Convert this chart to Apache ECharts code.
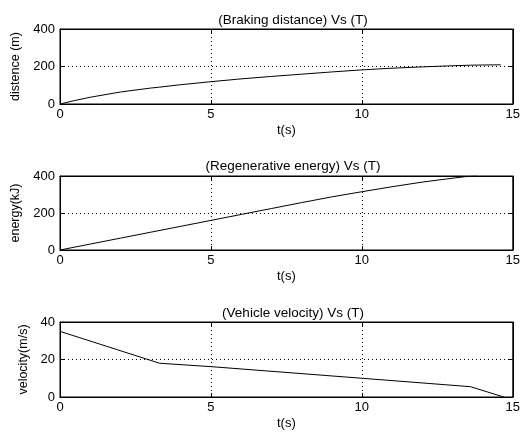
<!DOCTYPE html>
<html>
<head>
<meta charset="utf-8">
<script src="https://cdn.jsdelivr.net/npm/echarts@6/dist/echarts.min.js"></script>
<style>html,body{margin:0;padding:0;background:#fff;}#c{width:523px;height:437px;}</style>
</head>
<body>
<div id="c"></div>
<script>
// ---- data ----
var titles = ['(Braking distance) Vs (T)', '(Regenerative energy) Vs (T)', '(Vehicle velocity) Vs (T)'];
var yNames = ['distence (m)', 'energy(kJ)', 'velocity(m/s)'];
var xName = 't(s)';
var yMax = [400, 400, 40];
var yInterval = [200, 200, 20];

var distT = [0, 0.5, 1, 2, 3, 3.3, 4, 5, 6, 7, 8, 9, 10, 11, 12, 13, 13.6, 14, 14.6];
var distV = [0, 19, 36, 64, 85, 90, 103, 119, 134, 147, 159, 171, 182, 191, 198, 204, 207, 208, 209];

var energyT = [0, 1, 2, 3, 4, 5, 6, 7, 8, 9, 10, 11, 12, 13, 13.4, 13.8];
var energyV = [0, 32, 64, 96, 128, 160, 192, 224, 256, 287, 315, 342, 367, 388, 396, 400];

var velT = [0, 3.3, 5, 10, 13.6, 14.7];
var velV = [35, 18, 16.2, 10, 5.5, 0];

// ---- chart ----
var font = 'Liberation Sans, Arial, sans-serif';
var gridTops = [29, 176, 322];
var gridH = [75, 74, 75];
var nameGaps = [31, 30, 22];
var titleTops = [8, 154, 301];

function mk(t, v) { return t.map(function (x, i) { return [x, v[i]]; }); }
var seriesData = [mk(distT, distV), mk(energyT, energyV), mk(velT, velV)];

var grids = [], xAxes = [], yAxes = [], series = [], titleArr = [];
for (var i = 0; i < 3; i++) {
  grids.push({ left: 60, right: 7, top: gridTops[i], height: gridH[i], show: true, borderColor: '#000', borderWidth: 1, backgroundColor: '#fff' });
  titleArr.push({ text: titles[i], left: 288, top: titleTops[i], textAlign: 'center',
    textStyle: { fontFamily: font, fontSize: 13.5, fontWeight: 'normal', color: '#000' } });
  xAxes.push({ type: 'value', gridIndex: i, min: 0, max: 15, interval: 5, position: 'bottom',
    name: xName, nameLocation: 'middle', nameGap: 20,
    nameTextStyle: { fontFamily: font, fontSize: 13, color: '#000' },
    axisLine: { show: true, onZero: false, lineStyle: { color: '#000', width: 1 } },
    axisTick: { show: true, inside: true, length: 4, lineStyle: { color: '#000' } },
    axisLabel: { fontFamily: font, fontSize: 13, color: '#000', margin: 4 },
    splitLine: { show: true, lineStyle: { color: '#000', type: [1, 3], width: 1 } } });
  xAxes.push({ type: 'value', gridIndex: i, min: 0, max: 15, interval: 5, position: 'top',
    axisLine: { show: true, onZero: false, lineStyle: { color: '#000', width: 1 } },
    axisTick: { show: true, inside: true, length: 4, lineStyle: { color: '#000' } },
    axisLabel: { show: false }, splitLine: { show: false } });
  yAxes.push({ type: 'value', gridIndex: i, min: 0, max: yMax[i], interval: yInterval[i], position: 'left',
    name: yNames[i], nameLocation: 'middle', nameGap: nameGaps[i], nameRotate: 90,
    nameTextStyle: { fontFamily: font, fontSize: 12.5, color: '#000' },
    axisLine: { show: true, onZero: false, lineStyle: { color: '#000', width: 1 } },
    axisTick: { show: true, inside: true, length: 4, lineStyle: { color: '#000' } },
    axisLabel: { fontFamily: font, fontSize: 13, color: '#000', margin: 5 },
    splitLine: { show: true, lineStyle: { color: '#000', type: [1, 3], width: 1 } } });
  yAxes.push({ type: 'value', gridIndex: i, min: 0, max: yMax[i], interval: yInterval[i], position: 'right',
    axisLine: { show: true, onZero: false, lineStyle: { color: '#000', width: 1 } },
    axisTick: { show: true, inside: true, length: 4, lineStyle: { color: '#000' } },
    axisLabel: { show: false }, splitLine: { show: false } });
  series.push({ type: 'line', xAxisIndex: 2 * i, yAxisIndex: 2 * i, data: seriesData[i],
    showSymbol: false, symbol: 'none', smooth: false, animation: false,
    lineStyle: { color: '#000', width: 1 } });
}

var chart = echarts.init(document.getElementById('c'), null, { renderer: 'canvas' });
chart.setOption({
  backgroundColor: '#fff',
  animation: false,
  title: titleArr,
  grid: grids,
  xAxis: xAxes,
  yAxis: yAxes,
  series: series
});
</script>
</body>
</html>
